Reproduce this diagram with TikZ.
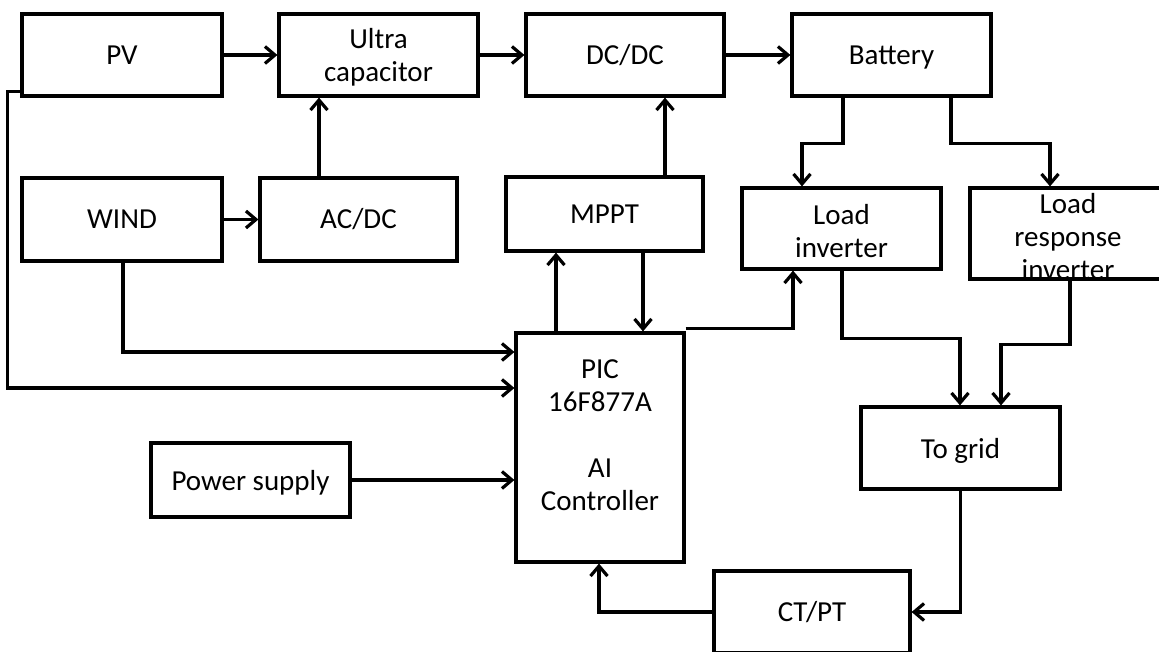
\documentclass[tikz,border=0pt]{standalone}
\usepackage{fontspec}
\setmainfont{Carlito}
\usetikzlibrary{arrows.meta,calc}
\begin{document}
\begin{tikzpicture}[x=1pt,y=-1pt,
  box/.style={draw, line width=3.2pt, inner sep=0pt, align=center,
    font=\fontsize{29}{33}\selectfont},
  txt/.style={inner sep=0pt, align=center, font=\fontsize{29}{33}\selectfont},
  arr/.style={line width=3.2pt, -{Straight Barb[length=10pt,width=17pt]}},
  ln/.style={line width=3.2pt}]
\useasboundingbox (0,0) rectangle (1159,652);
\clip (0,0) rectangle (1159,652);
% boxes
\node[box, minimum width=200pt, minimum height=82pt] (pv) at (122,55) {PV};
\node[box, minimum width=199pt, minimum height=82pt] (ultra) at (378.5,55) {};
\node[txt] (ultratext) at (378.5,57) {Ultra\\capacitor};
\node[box, minimum width=198pt, minimum height=82pt] (dcdc) at (625,55) {DC/DC};
\node[box, minimum width=199pt, minimum height=82pt] (batt) at (891.5,55) {};
\node[txt, anchor=base] (batttext) at (891.5,65) {Battery};
\node[box, minimum width=200pt, minimum height=83pt] (wind) at (122,219.5) {WIND};
\node[box, minimum width=197pt, minimum height=83pt] (acdc) at (358.5,219.5) {AC/DC};
\node[box, minimum width=197pt, minimum height=74pt] (mppt) at (604.5,214) {MPPT};
\node[box, minimum width=199pt, minimum height=81pt] (linv) at (841.5,228.5) {};
\node[txt] (linvtext) at (841.5,231) {Load\\inverter};
\node[box, minimum width=196pt, minimum height=91pt] (lrinv) at (1068,233.5) {};
\node[txt] (lrinvtext) at (1068,237) {Load\\response\\inverter};
\node[box, minimum width=168pt, minimum height=229pt] (pic) at (600,447.5) {};
\node[txt] (pictext) at (600,435) {PIC\\16F877A\\[33pt]AI\\Controller};
\node[box, minimum width=199pt, minimum height=74pt] (psup) at (250.5,480) {};
\node[txt, anchor=base] (psuptext) at (250.5,490) {Power supply};
\node[box, minimum width=199pt, minimum height=82pt] (grid) at (960.5,448) {};
\node[txt, anchor=base] (gridtext) at (960.5,458) {To grid};
\node[box, minimum width=196pt, minimum height=82pt] (ctpt) at (812,612) {CT/PT};
% connectors
\draw[arr] (pv.east) -- (ultra.west);
\draw[arr] (ultra.east) -- (dcdc.west);
\draw[arr] (dcdc.east) -- (batt.west);
\draw[arr] (wind.east) -- (acdc.west);
\draw[arr] ([xshift=-39.5pt]acdc.north) -- ([xshift=-39.5pt]acdc.north |- ultra.south);
\draw[arr] ([xshift=60.5pt]mppt.north) -- ([xshift=60.5pt]mppt.north |- dcdc.south);
\draw[arr] ([xshift=-44pt]pic.north) -- ([xshift=-44pt]pic.north |- mppt.south);
\draw[arr] ([xshift=43pt]pic.north |- mppt.south) -- ([xshift=43pt]pic.north);
\draw[arr] ([yshift=3pt]pic.north east) -| ([xshift=-48.5pt]linv.south);
\draw[arr] ([xshift=-48.5pt]batt.south) -- ++(0,46) -| ([xshift=-39.5pt]linv.north);
\draw[arr] ([xshift=59.5pt]batt.south) -- ++(0,46) -| ([xshift=-18pt]lrinv.north);
\draw[arr] ([xshift=0.5pt]linv.south) -- ++(0,68) -| ([xshift=-0.5pt]grid.north);
\draw[arr] ([xshift=2pt]lrinv.south) -- ++(0,64) -| ([xshift=40.5pt]grid.north);
\draw[arr] (grid.south) |- (ctpt.east);
\draw[arr] (ctpt.west) -| ([xshift=-1pt]pic.south);
\draw[arr] ([xshift=1pt]wind.south) |- ([yshift=95.5pt]pic.west);
\draw[arr] ([yshift=6pt]pv.south west) -- ++(-13,0) |- ([yshift=59.5pt]pic.west);
\draw[arr] (psup.east) -- (psup.east -| pic.west);
\end{tikzpicture}
\end{document}
